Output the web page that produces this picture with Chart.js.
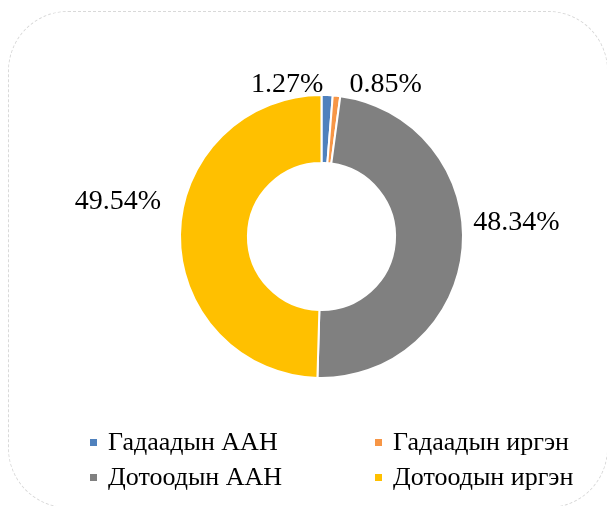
<!DOCTYPE html>
<html>
<head>
<meta charset="utf-8">
<script src="https://cdn.jsdelivr.net/npm/chart.js@4"></script>
<style>
  html, body { margin: 0; padding: 0; background: #fff; }
  #wrap { position: relative; width: 607px; height: 506px; overflow: hidden; }
  #frame {
    position: absolute; left: 8px; top: 11px; width: 600px; height: 497px;
    box-sizing: border-box; border: 1px dashed #d9d9d9; border-radius: 60px;
  }
  canvas { position: absolute; left: 0; top: 0; }
</style>
</head>
<body>
<div id="wrap">
  <div id="frame"></div>
  <canvas id="pieChart" width="607" height="506"></canvas>
</div>
<script>
const categories = ['Гадаадын ААН', 'Гадаадын иргэн', 'Дотоодын ААН', 'Дотоодын иргэн'];
const shares = [1.27, 0.85, 48.34, 49.54];
const colors = ['#4f81bd', '#f79646', '#808080', '#ffc000'];

// where each % label sits relative to the outer edge of its slice (excel-ish placement)
const labelShift = [[-40, -10], [49, -11], [54, -25], [-62, -33]];
// legend grid: two columns, two rows
const legendCols = [90, 375];
const legendRows = [443, 478];
const serif = '"Liberation Serif", serif';

const outsideLabels = {
  id: 'outsideLabels',
  afterDatasetsDraw(chart) {
    const ctx = chart.ctx;
    const arcs = chart.getDatasetMeta(0).data;
    ctx.save();
    ctx.font = '28px ' + serif;
    ctx.fillStyle = '#000';
    ctx.textAlign = 'center';
    ctx.textBaseline = 'middle';
    arcs.forEach((arc, i) => {
      const p = arc.getProps(['x', 'y', 'startAngle', 'endAngle', 'outerRadius']);
      const mid = (p.startAngle + p.endAngle) / 2;
      const x = p.x + Math.cos(mid) * p.outerRadius + labelShift[i][0];
      const y = p.y + Math.sin(mid) * p.outerRadius + labelShift[i][1];
      ctx.fillText(shares[i].toFixed(2) + '%', x, y);
    });
    ctx.restore();
  },
};

// two-column legend like the excel one
const gridLegend = {
  id: 'gridLegend',
  afterDraw(chart) {
    const ctx = chart.ctx;
    ctx.save();
    ctx.font = '26px ' + serif;
    ctx.textBaseline = 'middle';
    ctx.textAlign = 'left';
    categories.forEach((name, i) => {
      const x = legendCols[i % 2];
      const y = legendRows[Math.floor(i / 2)];
      ctx.fillStyle = colors[i];
      ctx.fillRect(x, y - 4, 7, 7);
      ctx.fillStyle = '#000';
      ctx.fillText(name, x + 18, y);
    });
    ctx.restore();
  },
};

const ctx = document.getElementById('pieChart').getContext('2d');
new Chart(ctx, {
  type: 'doughnut',
  data: {
    labels: categories,
    datasets: [
      {
        data: shares,
        backgroundColor: colors,
        borderColor: '#ffffff',
        borderWidth: 2,
      },
    ],
  },
  options: {
    responsive: false,
    animation: false,
    cutout: '52%',
    layout: {
      padding: { top: 94, bottom: 127, left: 179, right: 143 },
    },
    plugins: {
      legend: { display: false },
      tooltip: { enabled: false },
    },
  },
  plugins: [outsideLabels, gridLegend],
});
</script>
</body>
</html>
